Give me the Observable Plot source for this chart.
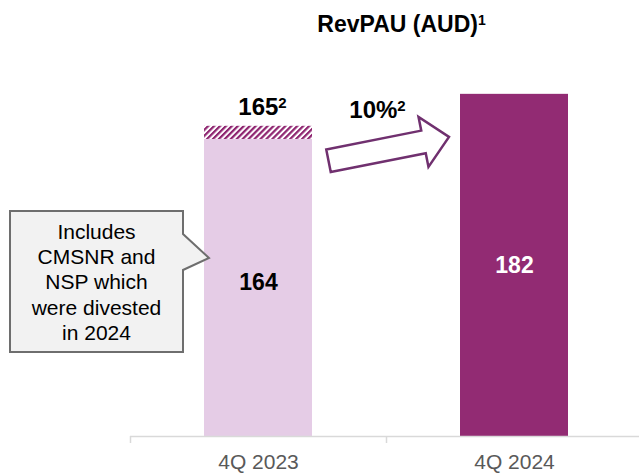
<!DOCTYPE html>
<html><head><meta charset="utf-8">
<script src="https://cdn.jsdelivr.net/npm/d3@7"></script>
<script src="https://cdn.jsdelivr.net/npm/@observablehq/plot@0.6"></script>
<style>
body{margin:0;background:#fff;font-family:"Liberation Sans",Arial,sans-serif;}
#chart{width:639px;height:473px;overflow:hidden;}
</style>
</head><body><div id="chart"></div>
<script>
// ---- data ----
const quarters = ["4Q 2023", "4Q 2024"];
const revpau = [164, 182];            // RevPAU (AUD)
const reported = [165, null];         // incl. divested businesses
const reportedLabels = ["165²", null];
const growthLabel = "10%²";
const titleText = "RevPAU (AUD)¹";
const calloutLines = ["Includes", "CMSNR and", "NSP which", "were divested", "in 2024"];
const barColors = ["#E5CCE6", "#922B73"];
const labelColors = ["#000000", "#FFFFFF"];

const rows = quarters.map((q, i) => ({q, v: revpau[i], total: reported[i], tl: reportedLabels[i], lc: labelColors[i]}));
const hatchRows = rows.filter(d => d.total != null);
const hatchDepth = 7;
const W = 639, H = 473;
const inset = 74;
const font = "Liberation Sans, Arial, sans-serif";

const plot = Plot.plot({
  width: W, height: H,
  marginLeft: 130, marginRight: 0, marginTop: 60, marginBottom: 37,
  style: {fontFamily: font, background: "white", overflow: "visible"},
  x: {domain: quarters, range: [130, 642], padding: 0, label: null},
  y: {domain: [0, 200], axis: null},
  color: {domain: quarters, range: barColors},
  marks: [
    Plot.barY(rows, {x: "q", y: "v", fill: "q", insetLeft: inset, insetRight: inset}),
    Plot.barY(hatchRows, {x: "q", y1: d => d.total - hatchDepth, y2: "total", fill: "white", insetLeft: inset, insetRight: inset}),
    Plot.barY(hatchRows, {x: "q", y1: d => d.total - hatchDepth, y2: "total", fill: "url(#hatch)", insetLeft: inset, insetRight: inset}),
    Plot.ruleY([0], {stroke: "#D9D9D9", strokeWidth: 1.5}),
    Plot.axisX({tickSize: 7, tickFormat: () => "", dx: -128, stroke: "#D9D9D9", strokeWidth: 1.5}),
    Plot.axisX({tickSize: 0, tickPadding: 18, fontSize: 21, fill: "#595959", label: null}),
    Plot.text(rows, {x: "q", y: d => d.v / 2, text: d => String(d.v), fill: "lc", fontSize: 23, fontWeight: "bold", lineAnchor: "middle"}),
    Plot.text(hatchRows, {x: "q", y: "total", text: "tl", dy: -11, dx: 4, fontSize: 24, fontWeight: "bold", lineAnchor: "bottom", fill: "#000"}),
    Plot.text([growthLabel], {x: () => quarters[0], y: () => reported[0], text: d => d, dx: 119, dy: -16, fontSize: 24, fontWeight: "bold", lineAnchor: "middle", fill: "#000"}),
    Plot.text([titleText], {frameAnchor: "top-left", dx: 271, dy: -36, text: d => d, fontSize: 23, fontWeight: "bold", lineAnchor: "middle", textAnchor: "middle", fill: "#000"})
  ]
});
plot.style.color = "#595959";
document.getElementById("chart").appendChild(plot);

const svg = d3.select(plot);

// superscripts as real tspans
const supMap = {"¹": "1", "²": "2"};
svg.selectAll("text").each(function() {
  const t = this.textContent;
  const m = t.match(/^(.*)([¹²])$/);
  if (!m || this.children.length) return;
  const fs = parseFloat(this.getAttribute("font-size") || getComputedStyle(this).fontSize) || 22;
  this.textContent = m[1];
  const sp = document.createElementNS("http://www.w3.org/2000/svg", "tspan");
  sp.setAttribute("font-size", Math.round(fs * 0.62));
  sp.setAttribute("dy", -(fs * 0.3).toFixed(1));
  sp.textContent = supMap[m[2]];
  this.appendChild(sp);
});

// pattern defs
const defs = svg.insert("defs", ":first-child");
const pat = defs.append("pattern").attr("id", "hatch").attr("patternUnits", "userSpaceOnUse")
  .attr("width", 4.2).attr("height", 4.2).attr("patternTransform", "rotate(45)");
pat.append("rect").attr("width", 4.2).attr("height", 4.2).attr("fill", "white");
pat.append("rect").attr("width", 2.2).attr("height", 4.2).attr("fill", "#8E2470");

// annotations positioned from the plot's scales
const xs = plot.scale("x"), ys = plot.scale("y");
const cx1 = xs.apply(quarters[0]) + xs.bandwidth / 2;
const cx2 = xs.apply(quarters[1]) + xs.bandwidth / 2;
const half = xs.bandwidth / 2 - inset;
const base = ys.apply(0);

// arrow
const tail = [cx1 + half + 16.5, ys.apply(reported[0]) + 35];
const tip = [cx2 - half - 11, ys.apply(revpau[1]) + 43];
const L = Math.hypot(tip[0] - tail[0], tip[1] - tail[1]);
const dir = [(tip[0] - tail[0]) / L, (tip[1] - tail[1]) / L];
const perp = [-dir[1], dir[0]];
const sh = 11.5, hh = 25.5, hl = 26;
const loc = [[0, -sh], [L - hl, -sh], [L - hl, -hh], [L, 0], [L - hl, hh], [L - hl, sh], [0, sh]];
const pts = loc.map(([u, v]) => [tail[0] + u * dir[0] + v * perp[0], tail[1] + u * dir[1] + v * perp[1]]);
svg.append("path").attr("d", "M" + pts.map(p => p.join(",")).join("L") + "Z")
  .attr("fill", "white").attr("stroke", "#70306F").attr("stroke-width", 2.5).attr("stroke-linejoin", "miter");

// callout
const tipX = cx1 - half + 5, tipY = base - 178;
const bR = tipX - 26, bL = 10, bT = base - 225, bB = base - 84;
const nT = tipY - 24, nB = tipY + 12;
svg.append("path")
  .attr("d", `M${bL},${bT}L${bR},${bT}L${bR},${nT}L${tipX},${tipY}L${bR},${nB}L${bR},${bB}L${bL},${bB}Z`)
  .attr("fill", "#F2F2F2").attr("stroke", "#6E6E6E").attr("stroke-width", 2);
const tx = (bL + bR) / 2;
const ct = svg.append("text").attr("text-anchor", "middle").attr("font-size", 21)
  .attr("font-family", font).attr("fill", "#000");
calloutLines.forEach((s, i) => ct.append("tspan").attr("x", tx).attr("y", bT + 28 + i * 25.2).text(s));
</script>
</body></html>
